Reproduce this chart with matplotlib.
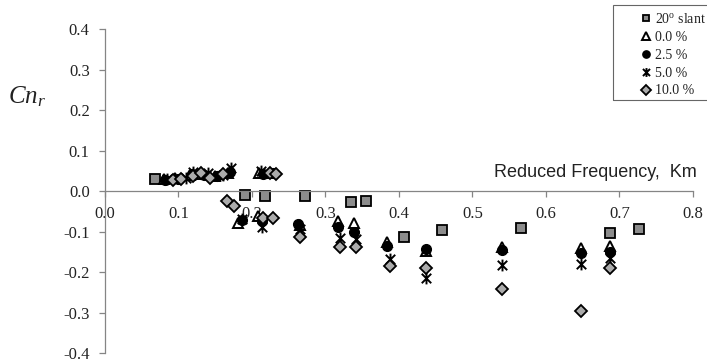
import numpy as np
import matplotlib
matplotlib.use('Agg')
import matplotlib.pyplot as plt
from matplotlib.path import Path
from matplotlib.patches import Rectangle

plt.rcParams['font.family'] = 'Liberation Serif'
plt.rcParams['mathtext.fontset'] = 'custom'
plt.rcParams['mathtext.rm'] = 'Liberation Serif'
plt.rcParams['mathtext.it'] = 'Liberation Serif:italic'

# data
slant_x = [0.068, 0.190, 0.218, 0.272, 0.335, 0.355, 0.407, 0.459, 0.566, 0.687, 0.726]
slant_y = [0.029, -0.009, -0.013, -0.013, -0.028, -0.024, -0.114, -0.096, -0.092, -0.104, -0.094]

p00_x = [0.080, 0.095, 0.115, 0.130, 0.150, 0.168, 0.210, 0.225,
         0.181, 0.208, 0.265, 0.317, 0.339, 0.384, 0.437, 0.540, 0.648, 0.687]
p00_y = [0.030, 0.032, 0.040, 0.042, 0.038, 0.045, 0.045, 0.044,
         -0.080, -0.062, -0.085, -0.075, -0.080, -0.125, -0.148, -0.138, -0.140, -0.135]

p25_x = [0.082, 0.100, 0.118, 0.135, 0.152, 0.170, 0.215, 0.228,
         0.186, 0.213, 0.263, 0.317, 0.339, 0.384, 0.437, 0.540, 0.648, 0.687]
p25_y = [0.028, 0.030, 0.042, 0.040, 0.036, 0.048, 0.042, 0.045,
         -0.072, -0.075, -0.082, -0.088, -0.100, -0.135, -0.143, -0.145, -0.152, -0.150]

p50_x = [0.085, 0.110, 0.120, 0.140, 0.160, 0.172, 0.212,
         0.186, 0.213, 0.265, 0.320, 0.342, 0.388, 0.437, 0.540, 0.648, 0.687]
p50_y = [0.030, 0.033, 0.046, 0.044, 0.040, 0.058, 0.050,
         -0.068, -0.090, -0.095, -0.116, -0.118, -0.167, -0.214, -0.182, -0.180, -0.165]

p100_x = [0.093, 0.104, 0.120, 0.131, 0.143, 0.160, 0.225, 0.232,
          0.166, 0.175, 0.215, 0.229, 0.265, 0.320, 0.342, 0.388, 0.437, 0.540, 0.648, 0.687]
p100_y = [0.028, 0.029, 0.037, 0.045, 0.033, 0.041, 0.045, 0.042,
          -0.024, -0.036, -0.067, -0.067, -0.114, -0.137, -0.137, -0.186, -0.190, -0.243, -0.296, -0.190]

xticks = [0.0, 0.1, 0.2, 0.3, 0.4, 0.5, 0.6, 0.7, 0.8]
xtick_labels = ['0.0', '0.1', '0.2', '0.3', '0.4', '0.5', '0.6', '0.7', '0.8']
yticks = [-0.4, -0.3, -0.2, -0.1, 0.0, 0.1, 0.2, 0.3, 0.4]
ytick_labels = ['-0.4', '-0.3', '-0.2', '-0.1', '0.0', '0.1', '0.2', '0.3', '0.4']

# excel-style asterisk: X plus vertical stroke
star = Path([(0, -1), (0, 1), (-0.8, -0.8), (0.8, 0.8), (-0.8, 0.8), (0.8, -0.8)],
            [Path.MOVETO, Path.LINETO, Path.MOVETO, Path.LINETO, Path.MOVETO, Path.LINETO])

fig = plt.figure(figsize=(7.07, 3.64), dpi=100)
ax = fig.add_axes([0.1485, 0.0302, 0.8317, 0.890])

ax.plot(slant_x, slant_y, ls='none', marker='s', ms=6.5, mfc='#8c8c8c', mec='black', mew=1.3,
        label='20$^{\\mathrm{o}}$ slant')
ax.plot(p00_x, p00_y, ls='none', marker='^', ms=7.5, mfc='white', mec='black', mew=1.4,
        label='0.0 %')
ax.plot(p25_x, p25_y, ls='none', marker='o', ms=7, mfc='black', mec='black',
        label='2.5 %')
ax.plot(p50_x, p50_y, ls='none', marker=star, ms=8.5, mec='black', mew=1.4,
        label='5.0 %')
ax.plot(p100_x, p100_y, ls='none', marker='D', ms=6.3, mfc='#ababab', mec='black', mew=1.3,
        label='10.0 %')

ax.set_xlim(0, 0.8)
ax.set_ylim(-0.4, 0.4)
ax.spines['top'].set_visible(False)
ax.spines['right'].set_visible(False)
ax.spines['bottom'].set_position(('data', 0))
for s in ('left', 'bottom'):
    ax.spines[s].set_color('#858585')
    ax.spines[s].set_linewidth(0.9)
ax.set_xticks(xticks)
ax.set_xticklabels(xtick_labels)
ax.set_yticks(yticks)
ax.set_yticklabels(ytick_labels)
ax.tick_params(axis='both', direction='out', length=4, width=0.9, color='#858585',
               labelsize=12, labelcolor='#222222')
ax.tick_params(axis='x', pad=7)
ax.tick_params(axis='y', pad=7)

ax.text(0.805, 0.046, 'Reduced Frequency,  Km', ha='right', va='center',
        fontsize=13, family='Liberation Sans', color='#222222')
fig.text(0.038, 0.733, '$Cn_r$', ha='center', va='center', fontsize=18, color='#222222')

leg = ax.legend(loc='upper left', bbox_to_anchor=(633 / 707, 1 - 5 / 364),
                bbox_transform=fig.transFigure, frameon=False, fontsize=10,
                handlelength=0.8, handletextpad=0.25, labelspacing=0.35,
                borderpad=0, markerscale=0.75)
for t in leg.get_texts():
    t.set_color('#222222')
fig.patches.append(Rectangle((613 / 707, 1 - 100 / 364), 0.2, 95 / 364,
                             transform=fig.transFigure, fill=False,
                             edgecolor='#666666', lw=0.8))

fig.savefig('out.png', dpi=100)
